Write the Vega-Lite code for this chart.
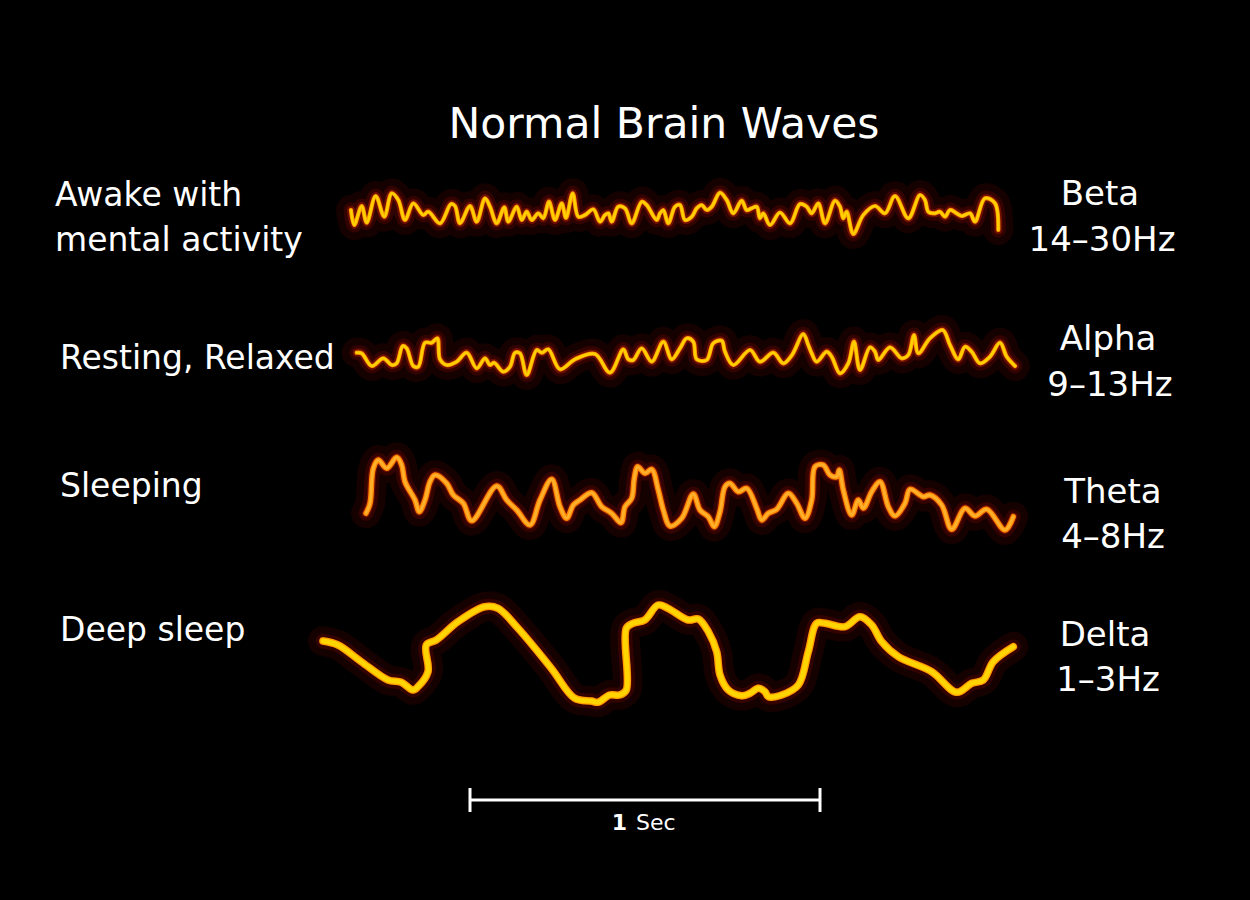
{
  "$schema": "https://vega.github.io/schema/vega-lite/v6.json",
  "width": 1250,
  "height": 900,
  "autosize": {"type": "none"},
  "padding": 0,
  "background": "#000000",
  "config": {"view": {"stroke": null}},
  "resolve": {"scale": {"color": "independent", "strokeWidth": "independent"}},
  "datasets": {
    "waves": [
      {"wave":"Beta","x":351,"y":690},{"wave":"Beta","x":354.3,"y":675},{"wave":"Beta","x":361.7,"y":694},{"wave":"Beta","x":366.7,"y":677.3},{"wave":"Beta","x":375.7,"y":704},{"wave":"Beta","x":384.3,"y":683.3},{"wave":"Beta","x":391.7,"y":706.7},{"wave":"Beta","x":398.3,"y":700},{"wave":"Beta","x":405,"y":680},{"wave":"Beta","x":413.3,"y":696.7},{"wave":"Beta","x":423.3,"y":685},{"wave":"Beta","x":428.3,"y":688.3},{"wave":"Beta","x":440,"y":676.7},{"wave":"Beta","x":451,"y":696},{"wave":"Beta","x":455,"y":694},{"wave":"Beta","x":460,"y":676.7},{"wave":"Beta","x":470,"y":694},{"wave":"Beta","x":476.7,"y":678.3},{"wave":"Beta","x":485,"y":701.7},{"wave":"Beta","x":490,"y":693.3},{"wave":"Beta","x":496.7,"y":676.7},{"wave":"Beta","x":504.3,"y":692.7},{"wave":"Beta","x":508.3,"y":678.3},{"wave":"Beta","x":516.7,"y":693.3},{"wave":"Beta","x":521.7,"y":680},{"wave":"Beta","x":526.7,"y":688.3},{"wave":"Beta","x":531.7,"y":680},{"wave":"Beta","x":538.3,"y":686.7},{"wave":"Beta","x":543.3,"y":681.7},{"wave":"Beta","x":549,"y":698.3},{"wave":"Beta","x":555,"y":680},{"wave":"Beta","x":561.7,"y":696.7},{"wave":"Beta","x":566,"y":682},{"wave":"Beta","x":572.7,"y":706.7},{"wave":"Beta","x":578.3,"y":683.3},{"wave":"Beta","x":585,"y":685},{"wave":"Beta","x":593.3,"y":690.7},{"wave":"Beta","x":600,"y":678.3},{"wave":"Beta","x":605,"y":685},{"wave":"Beta","x":608.3,"y":686.7},{"wave":"Beta","x":611.7,"y":678.3},{"wave":"Beta","x":618.3,"y":693.3},{"wave":"Beta","x":625,"y":691.7},{"wave":"Beta","x":631.7,"y":676.7},{"wave":"Beta","x":641.7,"y":698.3},{"wave":"Beta","x":646.7,"y":695},{"wave":"Beta","x":656.7,"y":680},{"wave":"Beta","x":660,"y":686.7},{"wave":"Beta","x":663.3,"y":690},{"wave":"Beta","x":668.3,"y":676.7},{"wave":"Beta","x":675,"y":693.3},{"wave":"Beta","x":680,"y":695},{"wave":"Beta","x":685,"y":680},{"wave":"Beta","x":691.7,"y":683.3},{"wave":"Beta","x":696.7,"y":691.7},{"wave":"Beta","x":701.7,"y":695},{"wave":"Beta","x":706.7,"y":690},{"wave":"Beta","x":711.7,"y":693.3},{"wave":"Beta","x":720,"y":707.3},{"wave":"Beta","x":726.7,"y":700},{"wave":"Beta","x":733.3,"y":686.7},{"wave":"Beta","x":741.7,"y":699.3},{"wave":"Beta","x":746.7,"y":690},{"wave":"Beta","x":751.7,"y":691.7},{"wave":"Beta","x":756.7,"y":693.3},{"wave":"Beta","x":760,"y":681.7},{"wave":"Beta","x":763.3,"y":686.7},{"wave":"Beta","x":770,"y":675},{"wave":"Beta","x":780,"y":687.5},{"wave":"Beta","x":790,"y":676.7},{"wave":"Beta","x":800,"y":696},{"wave":"Beta","x":806.7,"y":693.3},{"wave":"Beta","x":811.7,"y":686.7},{"wave":"Beta","x":818.3,"y":696.7},{"wave":"Beta","x":825,"y":676.7},{"wave":"Beta","x":835,"y":699.3},{"wave":"Beta","x":840,"y":693.3},{"wave":"Beta","x":843.3,"y":681.7},{"wave":"Beta","x":846.7,"y":688.3},{"wave":"Beta","x":853.3,"y":666},{"wave":"Beta","x":863.3,"y":685},{"wave":"Beta","x":875,"y":694},{"wave":"Beta","x":885,"y":686.7},{"wave":"Beta","x":895,"y":704},{"wave":"Beta","x":908.3,"y":681.7},{"wave":"Beta","x":920,"y":705},{"wave":"Beta","x":925,"y":700},{"wave":"Beta","x":928.3,"y":688.3},{"wave":"Beta","x":935,"y":686.7},{"wave":"Beta","x":940,"y":688.3},{"wave":"Beta","x":945,"y":683.3},{"wave":"Beta","x":950,"y":690},{"wave":"Beta","x":956.7,"y":686.7},{"wave":"Beta","x":961.7,"y":684},{"wave":"Beta","x":970,"y":686.7},{"wave":"Beta","x":975,"y":678.3},{"wave":"Beta","x":985,"y":701.7},{"wave":"Beta","x":995,"y":696.7},{"wave":"Beta","x":998.3,"y":670},
      {"wave":"Alpha","x":356.7,"y":547.3},{"wave":"Alpha","x":361.7,"y":546.7},{"wave":"Alpha","x":371.7,"y":534},{"wave":"Alpha","x":383.3,"y":541.7},{"wave":"Alpha","x":391.7,"y":535},{"wave":"Alpha","x":396.7,"y":536.7},{"wave":"Alpha","x":402.7,"y":554},{"wave":"Alpha","x":406.7,"y":551.7},{"wave":"Alpha","x":413.3,"y":534},{"wave":"Alpha","x":418.3,"y":533.3},{"wave":"Alpha","x":425,"y":557.3},{"wave":"Alpha","x":431.7,"y":557.3},{"wave":"Alpha","x":437.3,"y":561.7},{"wave":"Alpha","x":440,"y":540.7},{"wave":"Alpha","x":446.7,"y":535},{"wave":"Alpha","x":456.7,"y":538.3},{"wave":"Alpha","x":466.7,"y":547.3},{"wave":"Alpha","x":476.7,"y":531.7},{"wave":"Alpha","x":485,"y":541.7},{"wave":"Alpha","x":490,"y":535},{"wave":"Alpha","x":494,"y":537.3},{"wave":"Alpha","x":503.3,"y":528.3},{"wave":"Alpha","x":510,"y":533.3},{"wave":"Alpha","x":515,"y":547.3},{"wave":"Alpha","x":520,"y":546.7},{"wave":"Alpha","x":526.7,"y":525},{"wave":"Alpha","x":536.7,"y":550},{"wave":"Alpha","x":541.7,"y":547.3},{"wave":"Alpha","x":548.3,"y":550.7},{"wave":"Alpha","x":560,"y":530.7},{"wave":"Alpha","x":575,"y":540.7},{"wave":"Alpha","x":595,"y":546},{"wave":"Alpha","x":610,"y":527.3},{"wave":"Alpha","x":623.3,"y":550.7},{"wave":"Alpha","x":628.3,"y":540.7},{"wave":"Alpha","x":633.3,"y":540},{"wave":"Alpha","x":641.7,"y":551.7},{"wave":"Alpha","x":651.7,"y":538.3},{"wave":"Alpha","x":663.3,"y":558.3},{"wave":"Alpha","x":671.7,"y":540.7},{"wave":"Alpha","x":680,"y":551.7},{"wave":"Alpha","x":686.7,"y":561.7},{"wave":"Alpha","x":693.3,"y":558.3},{"wave":"Alpha","x":696.7,"y":540.7},{"wave":"Alpha","x":706.7,"y":540},{"wave":"Alpha","x":713.3,"y":556.7},{"wave":"Alpha","x":721.7,"y":559.3},{"wave":"Alpha","x":725,"y":548.3},{"wave":"Alpha","x":733.3,"y":535},{"wave":"Alpha","x":750,"y":550},{"wave":"Alpha","x":760,"y":538.3},{"wave":"Alpha","x":773.3,"y":547.3},{"wave":"Alpha","x":783.3,"y":536.7},{"wave":"Alpha","x":792,"y":545},{"wave":"Alpha","x":803.3,"y":566},{"wave":"Alpha","x":808.3,"y":555},{"wave":"Alpha","x":811.7,"y":546.7},{"wave":"Alpha","x":816.7,"y":538.3},{"wave":"Alpha","x":826.7,"y":548.3},{"wave":"Alpha","x":831.7,"y":543.3},{"wave":"Alpha","x":840,"y":526.7},{"wave":"Alpha","x":848.3,"y":536.7},{"wave":"Alpha","x":854,"y":558.3},{"wave":"Alpha","x":860,"y":530},{"wave":"Alpha","x":870,"y":552.7},{"wave":"Alpha","x":875,"y":548.3},{"wave":"Alpha","x":878.3,"y":540},{"wave":"Alpha","x":890,"y":552.7},{"wave":"Alpha","x":901.7,"y":541.7},{"wave":"Alpha","x":908.3,"y":545},{"wave":"Alpha","x":914,"y":565},{"wave":"Alpha","x":918.3,"y":546.7},{"wave":"Alpha","x":930,"y":561.7},{"wave":"Alpha","x":942.7,"y":570},{"wave":"Alpha","x":950,"y":555},{"wave":"Alpha","x":958.3,"y":540.7},{"wave":"Alpha","x":965,"y":553.3},{"wave":"Alpha","x":971.7,"y":548.3},{"wave":"Alpha","x":980,"y":536.7},{"wave":"Alpha","x":990,"y":543.3},{"wave":"Alpha","x":1000,"y":557.3},{"wave":"Alpha","x":1006.7,"y":543.3},{"wave":"Alpha","x":1015,"y":534},
      {"wave":"Theta","x":366,"y":386.7},{"wave":"Theta","x":370,"y":396.7},{"wave":"Theta","x":373.3,"y":431.7},{"wave":"Theta","x":378.3,"y":440},{"wave":"Theta","x":386.7,"y":431.7},{"wave":"Theta","x":396.7,"y":442.7},{"wave":"Theta","x":401.7,"y":435},{"wave":"Theta","x":405,"y":418.3},{"wave":"Theta","x":415,"y":400},{"wave":"Theta","x":419.3,"y":388.3},{"wave":"Theta","x":425,"y":400},{"wave":"Theta","x":430,"y":418.3},{"wave":"Theta","x":435,"y":425},{"wave":"Theta","x":446.7,"y":416.7},{"wave":"Theta","x":453.3,"y":405},{"wave":"Theta","x":463.3,"y":396.7},{"wave":"Theta","x":471.7,"y":379.3},{"wave":"Theta","x":496.7,"y":414},{"wave":"Theta","x":506.7,"y":400},{"wave":"Theta","x":516.7,"y":390},{"wave":"Theta","x":530,"y":375},{"wave":"Theta","x":540,"y":400},{"wave":"Theta","x":551.7,"y":420.7},{"wave":"Theta","x":560,"y":393.3},{"wave":"Theta","x":566.7,"y":381.7},{"wave":"Theta","x":573.3,"y":395},{"wave":"Theta","x":580,"y":400},{"wave":"Theta","x":591.7,"y":407.3},{"wave":"Theta","x":601.7,"y":393.3},{"wave":"Theta","x":611.7,"y":386.7},{"wave":"Theta","x":621,"y":377.3},{"wave":"Theta","x":625,"y":393.3},{"wave":"Theta","x":631.7,"y":401.7},{"wave":"Theta","x":634.3,"y":421.7},{"wave":"Theta","x":637.7,"y":433.3},{"wave":"Theta","x":645,"y":426.7},{"wave":"Theta","x":651.7,"y":430.7},{"wave":"Theta","x":658.3,"y":410},{"wave":"Theta","x":663.3,"y":390},{"wave":"Theta","x":670,"y":374},{"wave":"Theta","x":681.7,"y":381.7},{"wave":"Theta","x":693.3,"y":406},{"wave":"Theta","x":700,"y":390},{"wave":"Theta","x":708.3,"y":383.3},{"wave":"Theta","x":714.3,"y":373.3},{"wave":"Theta","x":720,"y":388.3},{"wave":"Theta","x":725,"y":413.3},{"wave":"Theta","x":730,"y":416.7},{"wave":"Theta","x":738.3,"y":408.3},{"wave":"Theta","x":746.7,"y":411.7},{"wave":"Theta","x":756.7,"y":391.7},{"wave":"Theta","x":761.7,"y":380},{"wave":"Theta","x":768.3,"y":386.7},{"wave":"Theta","x":776.7,"y":390.7},{"wave":"Theta","x":788.3,"y":406.7},{"wave":"Theta","x":796.7,"y":396.7},{"wave":"Theta","x":805,"y":381.7},{"wave":"Theta","x":811.7,"y":400},{"wave":"Theta","x":815,"y":433.3},{"wave":"Theta","x":823.3,"y":435},{"wave":"Theta","x":830,"y":425},{"wave":"Theta","x":836.7,"y":423.3},{"wave":"Theta","x":839.3,"y":430},{"wave":"Theta","x":843.3,"y":410},{"wave":"Theta","x":851.7,"y":385},{"wave":"Theta","x":858.3,"y":400},{"wave":"Theta","x":863.3,"y":391.7},{"wave":"Theta","x":871.7,"y":408.3},{"wave":"Theta","x":880,"y":418.3},{"wave":"Theta","x":888.3,"y":393.3},{"wave":"Theta","x":895,"y":384},{"wave":"Theta","x":905,"y":396.7},{"wave":"Theta","x":910,"y":410.7},{"wave":"Theta","x":923.3,"y":403.3},{"wave":"Theta","x":930,"y":405},{"wave":"Theta","x":941.7,"y":395},{"wave":"Theta","x":951.7,"y":370.7},{"wave":"Theta","x":965,"y":391.7},{"wave":"Theta","x":975,"y":384},{"wave":"Theta","x":986.7,"y":390.7},{"wave":"Theta","x":1005,"y":370},{"wave":"Theta","x":1013.3,"y":383.3},
      {"wave":"Delta","x":323,"y":259},{"wave":"Delta","x":338,"y":255},{"wave":"Delta","x":361.3,"y":238.3},{"wave":"Delta","x":388,"y":220},{"wave":"Delta","x":401.3,"y":217.7},{"wave":"Delta","x":413,"y":210},{"wave":"Delta","x":418,"y":213.3},{"wave":"Delta","x":428,"y":228.3},{"wave":"Delta","x":426.3,"y":255},{"wave":"Delta","x":436.3,"y":260},{"wave":"Delta","x":458,"y":278.3},{"wave":"Delta","x":484.7,"y":293.3},{"wave":"Delta","x":498,"y":291.7},{"wave":"Delta","x":518,"y":271.7},{"wave":"Delta","x":551.3,"y":231.7},{"wave":"Delta","x":574.7,"y":201.7},{"wave":"Delta","x":591.3,"y":199},{"wave":"Delta","x":598,"y":197.7},{"wave":"Delta","x":609.7,"y":205},{"wave":"Delta","x":619.7,"y":205},{"wave":"Delta","x":626.3,"y":210},{"wave":"Delta","x":626.3,"y":271.7},{"wave":"Delta","x":633,"y":276.7},{"wave":"Delta","x":644.7,"y":280},{"wave":"Delta","x":658,"y":295},{"wave":"Delta","x":668,"y":291.7},{"wave":"Delta","x":688.3,"y":280},{"wave":"Delta","x":698.3,"y":281},{"wave":"Delta","x":708.3,"y":268.3},{"wave":"Delta","x":716.7,"y":248.3},{"wave":"Delta","x":720,"y":225},{"wave":"Delta","x":728.3,"y":210},{"wave":"Delta","x":741.7,"y":204.3},{"wave":"Delta","x":750,"y":206.7},{"wave":"Delta","x":758.3,"y":211.7},{"wave":"Delta","x":765,"y":208.3},{"wave":"Delta","x":768.3,"y":203.3},{"wave":"Delta","x":781.7,"y":205},{"wave":"Delta","x":798.3,"y":215},{"wave":"Delta","x":808.3,"y":248.3},{"wave":"Delta","x":816.7,"y":276.7},{"wave":"Delta","x":825,"y":276.7},{"wave":"Delta","x":845,"y":273.3},{"wave":"Delta","x":860,"y":283.3},{"wave":"Delta","x":871.7,"y":275},{"wave":"Delta","x":881.7,"y":258.3},{"wave":"Delta","x":898.3,"y":243.3},{"wave":"Delta","x":931.7,"y":228.3},{"wave":"Delta","x":956.7,"y":207.7},{"wave":"Delta","x":971.7,"y":216.7},{"wave":"Delta","x":983.3,"y":220},{"wave":"Delta","x":993.3,"y":238.3},{"wave":"Delta","x":1013.3,"y":253.3}
    ],
    "leftLabels": [
      {"text":"Awake with","x":55,"y":704},
      {"text":"mental activity","x":55,"y":659},
      {"text":"Resting, Relaxed","x":60,"y":541},
      {"text":"Sleeping","x":60,"y":413},
      {"text":"Deep sleep","x":60,"y":269}
    ],
    "rightLabels": [
      {"text":"Beta","x":1100,"y":705},
      {"text":"14–30Hz","x":1102,"y":659},
      {"text":"Alpha","x":1108,"y":560},
      {"text":"9–13Hz","x":1110,"y":514},
      {"text":"Theta","x":1113,"y":407},
      {"text":"4–8Hz","x":1113,"y":362},
      {"text":"Delta","x":1105,"y":264},
      {"text":"1–3Hz","x":1108,"y":219}
    ],
    "scaleBar": [
      {"x":470,"x2":820,"y":100,"y2":100},
      {"x":470,"x2":470,"y":88,"y2":112},
      {"x":820,"x2":820,"y":88,"y2":112}
    ]
  },
  "layer": [
    {
      "data": {"name": "waves"},
      "mark": {"type": "line", "interpolate": "catmull-rom", "strokeWidth": 30, "color": "#ff1000", "opacity": 0.08, "strokeCap": "round", "strokeJoin": "round"},
      "encoding": {
        "x": {"field": "x", "type": "quantitative", "scale": {"domain": [0, 1250], "nice": false, "zero": false}, "axis": null},
        "y": {"field": "y", "type": "quantitative", "scale": {"domain": [0, 900], "nice": false, "zero": false}, "axis": null},
        "detail": {"field": "wave"},
        "order": {"value": null}
      }
    },
    {
      "data": {"name": "waves"},
      "mark": {"type": "line", "interpolate": "catmull-rom", "strokeWidth": 15, "color": "#ff1800", "opacity": 0.13, "strokeCap": "round", "strokeJoin": "round"},
      "encoding": {
        "x": {"field": "x", "type": "quantitative", "axis": null},
        "y": {"field": "y", "type": "quantitative", "axis": null},
        "detail": {"field": "wave"},
        "order": {"value": null}
      }
    },
    {
      "data": {"name": "waves"},
      "mark": {"type": "line", "interpolate": "catmull-rom", "strokeWidth": 8, "color": "#ff2a00", "opacity": 0.3, "strokeCap": "round", "strokeJoin": "round"},
      "encoding": {
        "x": {"field": "x", "type": "quantitative", "axis": null},
        "y": {"field": "y", "type": "quantitative", "axis": null},
        "detail": {"field": "wave"},
        "order": {"value": null}
      }
    },
    {
      "data": {"name": "waves"},
      "mark": {"type": "line", "interpolate": "catmull-rom", "strokeCap": "round", "strokeJoin": "round"},
      "encoding": {
        "x": {"field": "x", "type": "quantitative", "axis": null},
        "y": {"field": "y", "type": "quantitative", "axis": null},
        "color": {"field": "wave", "type": "nominal", "scale": {"domain": ["Beta", "Alpha", "Theta", "Delta"], "range": ["#ff9400", "#ff9400", "#ff8400", "#ffa000"]}, "legend": null},
        "strokeWidth": {"field": "wave", "type": "nominal", "scale": {"type": "ordinal", "domain": ["Beta", "Alpha", "Theta", "Delta"], "range": [4.2, 4.2, 5.5, 7.5]}, "legend": null},
        "order": {"value": null}
      }
    },
    {
      "data": {"name": "waves"},
      "mark": {"type": "line", "interpolate": "catmull-rom", "strokeCap": "round", "strokeJoin": "round"},
      "encoding": {
        "x": {"field": "x", "type": "quantitative", "axis": null},
        "y": {"field": "y", "type": "quantitative", "axis": null},
        "color": {"field": "wave", "type": "nominal", "scale": {"domain": ["Beta", "Alpha", "Theta", "Delta"], "range": ["#ffd000", "#ffd000", "#ffb02a", "#ffd400"]}, "legend": null},
        "strokeWidth": {"field": "wave", "type": "nominal", "scale": {"type": "ordinal", "domain": ["Beta", "Alpha", "Theta", "Delta"], "range": [2.6, 2.6, 3, 5]}, "legend": null},
        "order": {"value": null}
      }
    },
    {
      "data": {"name": "scaleBar"},
      "mark": {"type": "rule", "color": "#ffffff", "strokeWidth": 3},
      "encoding": {
        "x": {"field": "x", "type": "quantitative", "axis": null},
        "x2": {"field": "x2"},
        "y": {"field": "y", "type": "quantitative", "axis": null},
        "y2": {"field": "y2"}
      }
    },
    {
      "data": {"values": [{"text": "Normal Brain Waves", "x": 664, "y": 775}]},
      "mark": {"type": "text", "font": "DejaVu Sans", "fontSize": 42.5, "color": "#ffffff", "align": "center", "baseline": "middle"},
      "encoding": {
        "x": {"field": "x", "type": "quantitative", "axis": null},
        "y": {"field": "y", "type": "quantitative", "axis": null},
        "text": {"field": "text"}
      }
    },
    {
      "data": {"name": "leftLabels"},
      "mark": {"type": "text", "font": "DejaVu Sans", "fontSize": 33, "color": "#ffffff", "align": "left", "baseline": "middle"},
      "encoding": {
        "x": {"field": "x", "type": "quantitative", "axis": null},
        "y": {"field": "y", "type": "quantitative", "axis": null},
        "text": {"field": "text"}
      }
    },
    {
      "data": {"name": "rightLabels"},
      "mark": {"type": "text", "font": "DejaVu Sans", "fontSize": 34, "color": "#ffffff", "align": "center", "baseline": "middle"},
      "encoding": {
        "x": {"field": "x", "type": "quantitative", "axis": null},
        "y": {"field": "y", "type": "quantitative", "axis": null},
        "text": {"field": "text"}
      }
    },
    {
      "data": {"values": [{"text": "1", "x": 627, "y": 77}]},
      "mark": {"type": "text", "font": "DejaVu Sans", "fontSize": 22, "fontWeight": "bold", "color": "#ffffff", "align": "right", "baseline": "middle"},
      "encoding": {
        "x": {"field": "x", "type": "quantitative", "axis": null},
        "y": {"field": "y", "type": "quantitative", "axis": null},
        "text": {"field": "text"}
      }
    },
    {
      "data": {"values": [{"text": "Sec", "x": 636, "y": 77}]},
      "mark": {"type": "text", "font": "DejaVu Sans", "fontSize": 22, "color": "#ffffff", "align": "left", "baseline": "middle"},
      "encoding": {
        "x": {"field": "x", "type": "quantitative", "axis": null},
        "y": {"field": "y", "type": "quantitative", "axis": null},
        "text": {"field": "text"}
      }
    }
  ]
}
